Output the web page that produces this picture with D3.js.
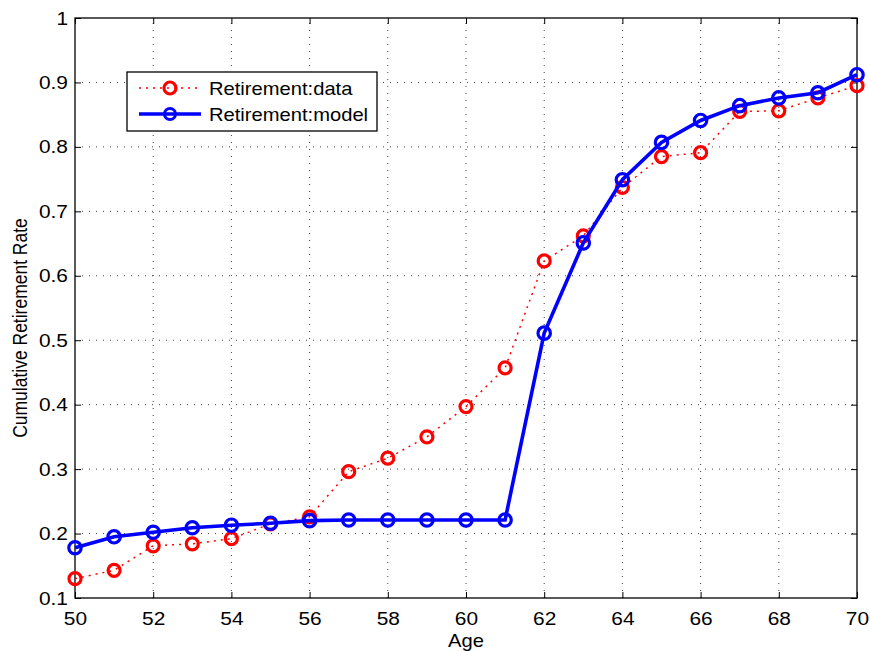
<!DOCTYPE html>
<html>
<head>
<meta charset="utf-8">
<script src="https://cdn.jsdelivr.net/npm/d3@7"></script>
<style>
  html, body { margin: 0; padding: 0; background: #fff; }
  svg { display: block; font-family: "Liberation Sans", Arial, Helvetica, sans-serif; }
</style>
</head>
<body>
<svg id="chart" width="870" height="651"></svg>
<script>
// Ages on the horizontal axis
const ages = [50,51,52,53,54,55,56,57,58,59,60,61,62,63,64,65,66,67,68,69,70];
// Observed cumulative retirement rate
const dataRate = [0.130,0.143,0.181,0.184,0.192,0.215,0.226,0.296,0.317,0.350,0.397,0.457,0.623,0.662,0.737,0.785,0.791,0.855,0.856,0.876,0.895];
// Model-predicted cumulative retirement rate
const modelRate = [0.178,0.195,0.202,0.209,0.213,0.216,0.220,0.221,0.221,0.221,0.221,0.221,0.511,0.651,0.749,0.807,0.841,0.864,0.876,0.884,0.912];
// Tick values
const xTicks = [50,52,54,56,58,60,62,64,66,68,70];
const yTicks = [0.1,0.2,0.3,0.4,0.5,0.6,0.7,0.8,0.9,1];
const seriesNames = ["Retirement:data", "Retirement:model"];

const svg = d3.select("#chart");
const plotL = 75, plotR = 857, plotT = 18, plotB = 598;
const stretch = 1.1;   // slightly wide lettering

const x = d3.scaleLinear().domain([50, 70]).range([plotL, plotR]);
const y = d3.scaleLinear().domain([0.1, 1]).range([plotB, plotT]);

const fmtY = d => d === 1 ? "1" : d3.format(".1f")(d);

// Dotted grid
const grid = svg.append("g").attr("stroke", "#000").attr("stroke-width", 1)
  .attr("stroke-dasharray", "1,6").attr("opacity", 0.75);
xTicks.slice(1, -1).forEach(t => {
  grid.append("line").attr("x1", x(t)).attr("x2", x(t)).attr("y1", plotB).attr("y2", plotT);
});
yTicks.slice(1, -1).forEach(t => {
  grid.append("line").attr("x1", plotL).attr("x2", plotR).attr("y1", y(t)).attr("y2", y(t));
});

// Axes (ticks pointing inward, mirrored on top/right)
const tickLen = 6;
const xAxisB = d3.axisBottom(x).tickValues(xTicks).tickSizeInner(-tickLen).tickSizeOuter(0);
const xAxisT = d3.axisTop(x).tickValues(xTicks).tickSizeInner(-tickLen).tickSizeOuter(0).tickFormat("");
const yAxisL = d3.axisLeft(y).tickValues(yTicks).tickSizeInner(-tickLen).tickSizeOuter(0).tickFormat(fmtY);
const yAxisR = d3.axisRight(y).tickValues(yTicks).tickSizeInner(-tickLen).tickSizeOuter(0).tickFormat("");

function styleAxis(g) {
  g.select(".domain").remove();
  g.selectAll(".tick line").attr("stroke", "#000").attr("stroke-width", 1);
  g.selectAll("text").attr("font-size", 19).attr("fill", "#000")
    .attr("transform", `scale(${stretch},1)`);
}
svg.append("g").attr("transform", `translate(0,${plotB})`).call(xAxisB).call(styleAxis)
  .selectAll("text").attr("y", 27).attr("dy", 0);
svg.append("g").attr("transform", `translate(0,${plotT})`).call(xAxisT).call(styleAxis);
svg.append("g").attr("transform", `translate(${plotL},0)`).call(yAxisL).call(styleAxis)
  .selectAll("text").attr("x", -7 / stretch).attr("dy", "0.32em");
svg.append("g").attr("transform", `translate(${plotR},0)`).call(yAxisR).call(styleAxis);

// Frame
svg.append("rect").attr("x", plotL).attr("y", plotT).attr("width", plotR - plotL).attr("height", plotB - plotT)
  .attr("fill", "none").attr("stroke", "#000").attr("stroke-width", 1.3);

// Axis labels
svg.append("text").attr("transform", `translate(${(plotL + plotR) / 2},647) scale(1.12,1)`)
  .attr("text-anchor", "middle").attr("font-size", 18).text("Age");
svg.append("text").attr("transform", `translate(27,328) rotate(-90) scale(1,1.12)`)
  .attr("text-anchor", "middle").attr("font-size", 17.5).text("Cumulative Retirement Rate");

const line = d3.line().x((d, i) => x(ages[i])).y(d => y(d));

// Data series: red dotted with circles
svg.append("path").datum(dataRate).attr("d", line).attr("fill", "none")
  .attr("stroke", "#ff0000").attr("stroke-width", 1.5).attr("stroke-dasharray", "2,5");
svg.append("g").selectAll("circle").data(dataRate).join("circle")
  .attr("cx", (d, i) => x(ages[i])).attr("cy", d => y(d)).attr("r", 6)
  .attr("fill", "none").attr("stroke", "#ff0000").attr("stroke-width", 3.2);

// Model series: blue solid with circles
svg.append("path").datum(modelRate).attr("d", line).attr("fill", "none")
  .attr("stroke", "#0000ff").attr("stroke-width", 3.6);
svg.append("g").selectAll("circle").data(modelRate).join("circle")
  .attr("cx", (d, i) => x(ages[i])).attr("cy", d => y(d)).attr("r", 6.2)
  .attr("fill", "none").attr("stroke", "#0000ff").attr("stroke-width", 3.2);

// Legend
const lg = svg.append("g");
lg.append("rect").attr("x", 127).attr("y", 72).attr("width", 250).attr("height", 59)
  .attr("fill", "#fff").attr("stroke", "#000").attr("stroke-width", 1.3);
lg.append("line").attr("x1", 139).attr("x2", 198).attr("y1", 88).attr("y2", 88)
  .attr("stroke", "#ff0000").attr("stroke-width", 1.5).attr("stroke-dasharray", "2,5");
lg.append("circle").attr("cx", 170).attr("cy", 88).attr("r", 6)
  .attr("fill", "none").attr("stroke", "#ff0000").attr("stroke-width", 3.2);
lg.append("line").attr("x1", 139).attr("x2", 201).attr("y1", 114).attr("y2", 114)
  .attr("stroke", "#0000ff").attr("stroke-width", 3.6);
lg.append("circle").attr("cx", 170).attr("cy", 114).attr("r", 5.5)
  .attr("fill", "none").attr("stroke", "#0000ff").attr("stroke-width", 3);
lg.append("text").attr("transform", `translate(209,95) scale(1.12,1)`).attr("font-size", 18).text(seriesNames[0]);
lg.append("text").attr("transform", `translate(209,121) scale(1.12,1)`).attr("font-size", 18).text(seriesNames[1]);
</script>
</body>
</html>
